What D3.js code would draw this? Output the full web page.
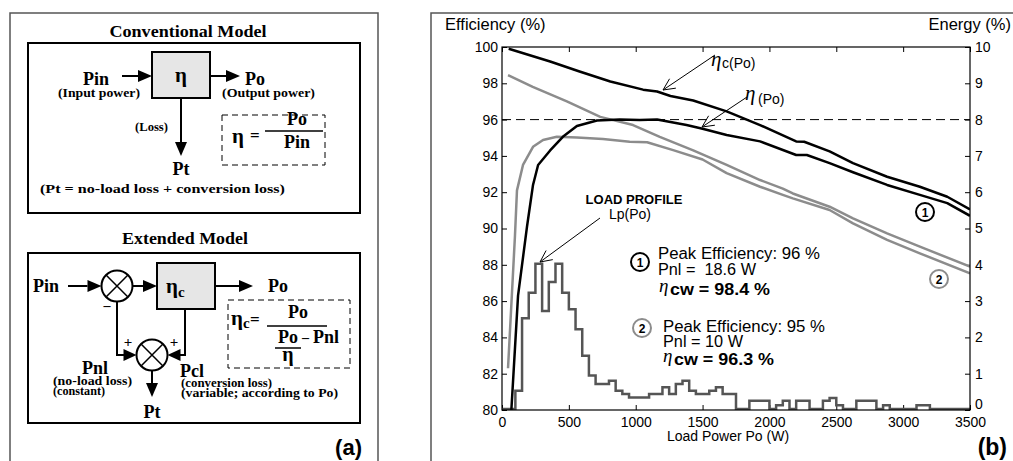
<!DOCTYPE html>
<html lang="en">
<head>
<meta charset="UTF-8">
<title>Efficiency model</title>
<script src="https://d3js.org/d3.v7.min.js"></script>
<style>
    body { margin: 0; background: #fff; }
    svg { display: block; }
    .serif { font-family: "Liberation Serif", "Times New Roman", serif; font-weight: bold; }
    .sans { font-family: "Liberation Sans", Arial, sans-serif; }
</style>
</head>
<body>
<script>
// ---- chart data ----
const xTicks = [0, 500, 1000, 1500, 2000, 2500, 3000, 3500];
const effTicks = [80, 82, 84, 86, 88, 90, 92, 94, 96, 98, 100];
const energyTicks = [0, 1, 2, 3, 4, 5, 6, 7, 8, 9, 10];

// [Po (W), efficiency (%)]
const etaC1 = [[50,99.9],[360,99.2],[580,98.65],[810,98.1],[1055,97.65],[1160,97.55],[1260,97.3],[1430,97.05],
    [1680,96.45],[1930,95.7],[2200,94.8],[2260,94.78],[2450,94.25],[2625,93.6],[2880,92.85],[3125,92.3],[3330,91.75],[3500,91.05]];
const eta1 = [[70,80],[120,86.3],[187,90.1],[232,92.4],[270,93.5],[360,94.3],[455,95.05],[560,95.65],[710,95.95],
    [880,96.0],[1030,95.98],[1160,96.0],[1380,95.7],[1500,95.5],[1680,95.15],[1930,94.8],[2200,94.05],[2280,94.05],
    [2450,93.6],[2625,93.1],[2880,92.4],[3125,91.85],[3330,91.4],[3500,90.7]];
const etaC2 = [[45,98.45],[230,97.8],[485,97.0],[735,96.15],[980,95.7],[1180,95.05],[1430,94.3],[1680,93.5],
    [1930,92.67],[2100,92.2],[2175,91.93],[2450,91.2],[2625,90.56],[2880,89.73],[3125,89.0],[3500,87.9]];
const eta2 = [[45,82.3],[97,89.6],[112,92.1],[157,93.5],[232,94.5],[307,94.88],[410,95.06],[560,95.02],[755,94.93],
    [955,94.78],[1085,94.75],[1280,94.32],[1500,93.8],[1680,93.05],[1930,92.3],[2100,91.85],[2175,91.66],
    [2450,91.02],[2625,90.28],[2880,89.37],[3125,88.63],[3500,87.53]];

// load profile, energy (%) per 50 W bin
const binWidth = 50;
const loadProfile = [0,0,0.5,2.5,3.2,4.0,2.7,3.5,4.0,3.2, 2.75,2.2,1.47,0.92,0.69,0.69,0.78,0.5,0.41,0.32,
    0.32,0.32,0.41,0.41,0.6,0.41,0.69,0.78,0.5,0.41, 0.41,0.5,0.6,0.41,0.41,0,0,0.23,0.23,0.23,
    0,0.1,0.23,0,0.23,0.23,0,0,0.23,0.3, 0.1,0,0,0.23,0.23,0.23,0,0.1,0,0, 0,0,0.1,0.1,0,0,0,0,0,0];

const W = 1013, H = 461;
const svg = d3.select("body").append("svg").attr("width", W).attr("height", H);

// ---------- helpers ----------
function arrow(g, x1, y1, x2, y2, len, half) {
    len = len || 14; half = half || 6;
    const a = Math.atan2(y2 - y1, x2 - x1);
    const bx = x2 - len * Math.cos(a), by = y2 - len * Math.sin(a);
    g.append("line").attr("x1", x1).attr("y1", y1).attr("x2", bx).attr("y2", by)
        .attr("stroke", "#000").attr("stroke-width", 2);
    const p = [[x2, y2],
        [bx + half * Math.sin(a), by - half * Math.cos(a)],
        [bx - half * Math.sin(a), by + half * Math.cos(a)]];
    g.append("path").attr("d", d3.line()(p) + "Z").attr("fill", "#000");
}
function openArrow(g, x1, y1, x2, y2) {
    const a = Math.atan2(y2 - y1, x2 - x1);
    g.append("line").attr("x1", x1).attr("y1", y1).attr("x2", x2).attr("y2", y2)
        .attr("stroke", "#000").attr("stroke-width", 1);
    [0.45, -0.45].forEach(d => {
        g.append("line").attr("x1", x2).attr("y1", y2)
            .attr("x2", x2 - 13 * Math.cos(a + d)).attr("y2", y2 - 13 * Math.sin(a + d))
            .attr("stroke", "#000").attr("stroke-width", 1);
    });
}
function txt(g, x, y, s, size, cls, anchor) {
    return g.append("text").attr("x", x).attr("y", y).attr("class", cls || "serif")
        .attr("font-size", size).attr("text-anchor", anchor || "start").text(s);
}
// label stretched to the width it has in the picture
function wide(g, x, y, s, size, len, anchor) {
    return txt(g, x, y, s, size, "serif", anchor).attr("textLength", len).attr("lengthAdjust", "spacingAndGlyphs");
}
function eta(g, x, y, size) {
    return txt(g, x, y, "η", size, "serif").style("font-style", "italic").style("font-weight", "normal");
}
function circ(g, cx, cy, r) {
    g.append("circle").attr("cx", cx).attr("cy", cy).attr("r", r)
        .attr("fill", "#fff").attr("stroke", "#000").attr("stroke-width", 2);
}

// ---------- panel (a) ----------
const pa = svg.append("g");
pa.append("path").attr("d", "M10,470V13H378V470").attr("fill", "none").attr("stroke", "#555").attr("stroke-width", 1.5);

// conventional model
wide(pa, 188, 37, "Conventional Model", 16.5, 157, "middle");
pa.append("rect").attr("x", 28).attr("y", 43).attr("width", 332).attr("height", 170)
    .attr("fill", "none").attr("stroke", "#000").attr("stroke-width", 2);
pa.append("rect").attr("x", 152).attr("y", 52).attr("width", 58).attr("height", 46)
    .attr("fill", "#e6e6e6").attr("stroke", "#000").attr("stroke-width", 2);
txt(pa, 181, 82, "η", 21, "serif", "middle");
arrow(pa, 122, 76, 152, 76);
arrow(pa, 210, 76, 240, 76);
arrow(pa, 181, 98, 181, 156);
txt(pa, 83, 85, "Pin", 18);
wide(pa, 58, 97, "(Input power)", 12.5, 82);
txt(pa, 245, 85, "Po", 18);
wide(pa, 222, 97, "(Output power)", 12.5, 93);
wide(pa, 135, 131, "(Loss)", 12.5, 33);
txt(pa, 181, 175, "Pt", 18, "serif", "middle");
wide(pa, 40, 193, "(Pt = no-load loss + conversion loss)", 12.5, 245);
pa.append("rect").attr("x", 222).attr("y", 115).attr("width", 103).attr("height", 50)
    .attr("fill", "none").attr("stroke", "#000").attr("stroke-width", 1).attr("stroke-dasharray", "6,4");
txt(pa, 232, 143, "η", 21);
txt(pa, 250, 141, "=", 17);
pa.append("line").attr("x1", 265).attr("x2", 323).attr("y1", 131).attr("y2", 131).attr("stroke", "#000").attr("stroke-width", 1.5);
txt(pa, 297, 125, "Po", 18, "serif", "middle");
txt(pa, 297, 148, "Pin", 18, "serif", "middle");

// extended model
wide(pa, 185, 244, "Extended Model", 16.5, 126, "middle");
pa.append("rect").attr("x", 28).attr("y", 253).attr("width", 332).attr("height", 170)
    .attr("fill", "none").attr("stroke", "#000").attr("stroke-width", 2);
function sumNode(cx, cy, r) {
    circ(pa, cx, cy, r);
    const k = r * 0.707;
    pa.append("path").attr("d", `M${cx - k},${cy - k}L${cx + k},${cy + k}M${cx + k},${cy - k}L${cx - k},${cy + k}`)
        .attr("stroke", "#000").attr("stroke-width", 1.5);
}
sumNode(117, 286, 15.5);
sumNode(152, 355, 15.5);
pa.append("rect").attr("x", 157).attr("y", 263).attr("width", 58).attr("height", 46)
    .attr("fill", "#e6e6e6").attr("stroke", "#000").attr("stroke-width", 2);
const ec = txt(pa, 166, 293, "η", 21);
ec.append("tspan").attr("font-size", 15).attr("dy", 4).text("c");
txt(pa, 33, 292, "Pin", 18);
arrow(pa, 68, 286, 101.5, 286);
arrow(pa, 132.5, 286, 157, 286);
arrow(pa, 215, 286, 253, 286);
txt(pa, 268, 292, "Po", 18);
pa.append("path").attr("d", "M117,301.5V355H125").attr("fill", "none").attr("stroke", "#000").attr("stroke-width", 2);
arrow(pa, 125, 355, 136.5, 355, 13, 6);
pa.append("path").attr("d", "M185,309V355H178").attr("fill", "none").attr("stroke", "#000").attr("stroke-width", 2);
arrow(pa, 178, 355, 167.5, 355, 13, 6);
arrow(pa, 152, 370.5, 152, 397);
txt(pa, 152, 418, "Pt", 18, "serif", "middle");
txt(pa, 107, 310, "–", 14, "serif", "middle");
txt(pa, 128, 347, "+", 15, "serif", "middle");
txt(pa, 174, 347, "+", 15, "serif", "middle");
txt(pa, 82, 374, "Pnl", 18);
wide(pa, 53, 385, "(no-load loss)", 11.5, 79);
wide(pa, 53, 395, "(constant)", 11.5, 52);
txt(pa, 180, 377, "Pcl", 18);
wide(pa, 181, 387, "(conversion loss)", 11.5, 91);
wide(pa, 181, 397, "(variable; according to Po)", 11.5, 157);
pa.append("rect").attr("x", 228).attr("y", 300).attr("width", 122).attr("height", 68)
    .attr("fill", "none").attr("stroke", "#000").attr("stroke-width", 1).attr("stroke-dasharray", "6,4");
const ec2 = txt(pa, 231, 325, "η", 21);
ec2.append("tspan").attr("font-size", 15).attr("dy", 3).text("c");
txt(pa, 250, 325, "=", 17);
pa.append("line").attr("x1", 267).attr("x2", 327).attr("y1", 326).attr("y2", 326).attr("stroke", "#000").attr("stroke-width", 1.5);
txt(pa, 298, 318, "Po", 18, "serif", "middle");
txt(pa, 288, 343, "Po", 18, "serif", "middle");
pa.append("line").attr("x1", 275).attr("x2", 301).attr("y1", 348).attr("y2", 348).attr("stroke", "#000").attr("stroke-width", 1.5);
txt(pa, 288, 361, "η", 20, "serif", "middle");
txt(pa, 302, 342, "–", 14);
txt(pa, 313, 343, "Pnl", 18);
txt(pa, 362, 455, "(a)", 22, "sans", "end").attr("font-weight", "bold");

// ---------- panel (b) ----------
const pb = svg.append("g").attr("class", "sans");
pb.append("path").attr("d", "M431,470V13H1020").attr("fill", "none").attr("stroke", "#555").attr("stroke-width", 1.5);

const x0 = 502, x1 = 970, yTop = 47, yBot = 410;
const x = d3.scaleLinear().domain([0, 3500]).range([x0, x1]);
const y = d3.scaleLinear().domain([80, 100]).range([yBot, yTop]);
const yE = d3.scaleLinear().domain([0, 10]).range([yBot, yTop]);

txt(pb, 445, 30, "Efficiency (%)", 16.5, "sans");
txt(pb, 1011, 30, "Energy (%)", 16.5, "sans", "end");

function styleAxis(g) {
    g.select(".domain").remove();
    g.selectAll("text").attr("font-family", "Liberation Sans, Arial, sans-serif").attr("font-size", 14).attr("fill", "#000");
    g.selectAll("line").attr("stroke", "#000");
}
pb.append("g").attr("transform", `translate(${x0},0)`)
    .call(d3.axisLeft(y).tickValues(effTicks).tickSize(-5).tickPadding(4)).call(styleAxis);
const rightAxis = pb.append("g").attr("transform", `translate(${x1},0)`)
    .call(d3.axisRight(yE).tickValues(energyTicks).tickSize(-5).tickPadding(5)).call(styleAxis);
rightAxis.selectAll(".tick text").filter(d => d === 0).attr("y", -6);
pb.append("g").attr("transform", `translate(0,${yBot})`)
    .call(d3.axisBottom(x).tickValues(xTicks).tickSize(-5).tickPadding(7).tickFormat(d3.format("d"))).call(styleAxis);
pb.append("g").attr("transform", `translate(0,${yTop})`)
    .call(d3.axisTop(x).tickValues(xTicks).tickSize(-5).tickFormat("")).call(styleAxis);
txt(pb, 728, 441, "Load Power Po (W)", 14, "sans", "middle");

// 96 % reference line
pb.append("line").attr("x1", x0).attr("x2", x1).attr("y1", y(96)).attr("y2", y(96))
    .attr("stroke", "#000").attr("stroke-width", 1).attr("stroke-dasharray", "9,5");

pb.append("clipPath").attr("id", "plotClip").append("rect")
    .attr("x", x0).attr("y", yTop).attr("width", x1 - x0).attr("height", yBot - yTop);
const plot = pb.append("g").attr("clip-path", "url(#plotClip)");

// load profile histogram (step line)
const steps = loadProfile.map((v, i) => [i * binWidth, v]);
steps.push([loadProfile.length * binWidth, loadProfile[loadProfile.length - 1]]);
plot.append("path").datum(steps)
    .attr("d", d3.line().x(d => x(d[0])).y(d => yE(d[1]) - 1).curve(d3.curveStepAfter))
    .attr("fill", "none").attr("stroke", "#555").attr("stroke-width", 2.5);

const effLine = d3.line().x(d => x(d[0])).y(d => y(d[1]));
[[etaC2, "#8c8c8c"], [eta2, "#8c8c8c"], [etaC1, "#000"], [eta1, "#000"]].forEach(([data, col]) => {
    plot.append("path").datum(data).attr("d", effLine)
        .attr("fill", "none").attr("stroke", col).attr("stroke-width", 2.5).attr("stroke-linejoin", "round");
});

// frame
pb.append("rect").attr("x", x0).attr("y", yTop).attr("width", x1 - x0).attr("height", yBot - yTop)
    .attr("fill", "none").attr("stroke", "#000").attr("stroke-width", 1.2);

// annotations
openArrow(pb, 715, 55, 663, 90);
eta(pb, 711, 66, 21);
txt(pb, 722, 68, "c(Po)", 14, "sans");
openArrow(pb, 747, 97, 702, 127);
eta(pb, 745, 100, 21);
txt(pb, 758, 104, "(Po)", 14, "sans");
openArrow(pb, 600, 218, 540, 262);
txt(pb, 634, 204, "LOAD PROFILE", 13, "sans", "middle").attr("font-weight", "bold");
txt(pb, 630, 219, "Lp(Po)", 14, "sans", "middle");

function badge(cx, cy, label, col) {
    pb.append("circle").attr("cx", cx).attr("cy", cy).attr("r", 9)
        .attr("fill", "#fff").attr("stroke", col).attr("stroke-width", 2);
    txt(pb, cx, cy + 4.5, label, 12, "sans", "middle").attr("font-weight", "bold");
}
badge(640, 262, "1", "#000");
badge(642, 328, "2", "#8c8c8c");
badge(925, 212, "1", "#000");
badge(939, 279, "2", "#8c8c8c");

function note(x, y, s, len) {
    return txt(pb, x, y, s, 16, "sans").attr("textLength", len).attr("lengthAdjust", "spacingAndGlyphs");
}
note(658, 259, "Peak Efficiency: 96 %", 162);
note(658, 275, "Pnl =  18.6 W", 98).style("white-space", "pre");
eta(pb, 659, 292, 19);
note(670, 295, "cw = 98.4 %", 100).attr("font-weight", "bold");

note(663, 332, "Peak Efficiency: 95 %", 162);
note(663, 347, "Pnl = 10 W", 80);
eta(pb, 663, 362, 19);
note(674, 365, "cw = 96.3 %", 100).attr("font-weight", "bold");

txt(pb, 1007, 455, "(b)", 23, "sans", "end").attr("font-weight", "bold");
</script>
</body>
</html>
